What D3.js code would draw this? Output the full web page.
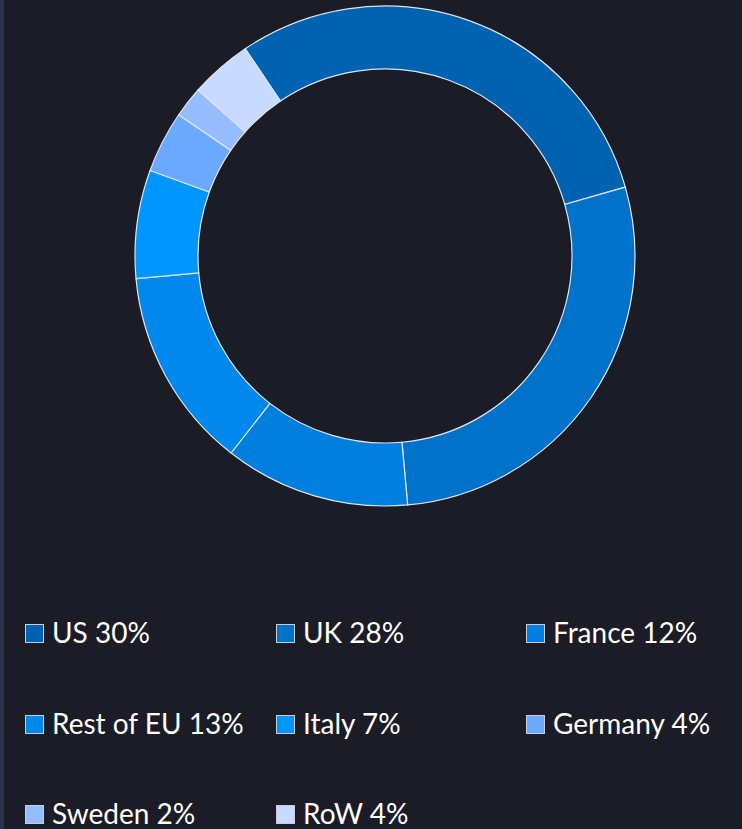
<!DOCTYPE html>
<html><head><meta charset="utf-8">
<script src="https://cdn.jsdelivr.net/npm/d3@7"></script>
<style>
html,body{margin:0;padding:0;background:#1b1c25;}
svg{display:block;}
</style></head>
<body>
<svg id="chart" width="742" height="829"></svg>
<script>
const categories = ["US", "UK", "France", "Rest of EU", "Italy", "Germany", "Sweden", "RoW"];
const values = [30, 28, 12, 13, 7, 4, 2, 4];
const colors = ["#0063b1", "#0072c9", "#007fdf", "#0088ec", "#0096ff", "#6aa9ff", "#94bcff", "#c8daff"];

const svg = d3.select("#chart");
const W = 742, H = 829;
svg.append("rect").attr("width", W).attr("height", H).attr("fill", "#1b1c25");
svg.append("rect").attr("x", 0).attr("y", 0).attr("width", 4).attr("height", H).attr("fill", "#2a3249");

const cx = 385, cy = 256, rOuter = 250, rInner = 187;
const startA = -34 * Math.PI / 180;
const pie = d3.pie().sort(null).value(d => d.v)
  .startAngle(startA).endAngle(startA + 2 * Math.PI);
const data = categories.map((c, i) => ({c, v: values[i], col: colors[i]}));
const arc = d3.arc().innerRadius(rInner).outerRadius(rOuter);

svg.append("g").attr("transform", `translate(${cx},${cy})`)
  .selectAll("path").data(pie(data)).join("path")
  .attr("d", arc)
  .attr("fill", d => d.data.col)
  .attr("stroke", "#dde4f0")
  .attr("stroke-width", 1.2);

// legend
const colX = [25, 276, 526];
const rowY = [624, 715, 805];
const lg = svg.append("g");
data.forEach((d, i) => {
  const x = colX[i % 3], y = rowY[Math.floor(i / 3)];
  lg.append("rect").attr("x", x + 0.5).attr("y", y + 0.5).attr("width", 18).attr("height", 18)
    .attr("fill", d.col).attr("stroke", "#c8ccd6").attr("stroke-width", 1);
  lg.append("text").attr("x", x + 27).attr("y", y + 19)
    .attr("fill", "#ffffff")
    .attr("font-family", "Lato, 'Open Sans', sans-serif")
    .attr("font-size", 28)
    .text(`${d.c} ${d.v}%`);
});
</script>
</body></html>
